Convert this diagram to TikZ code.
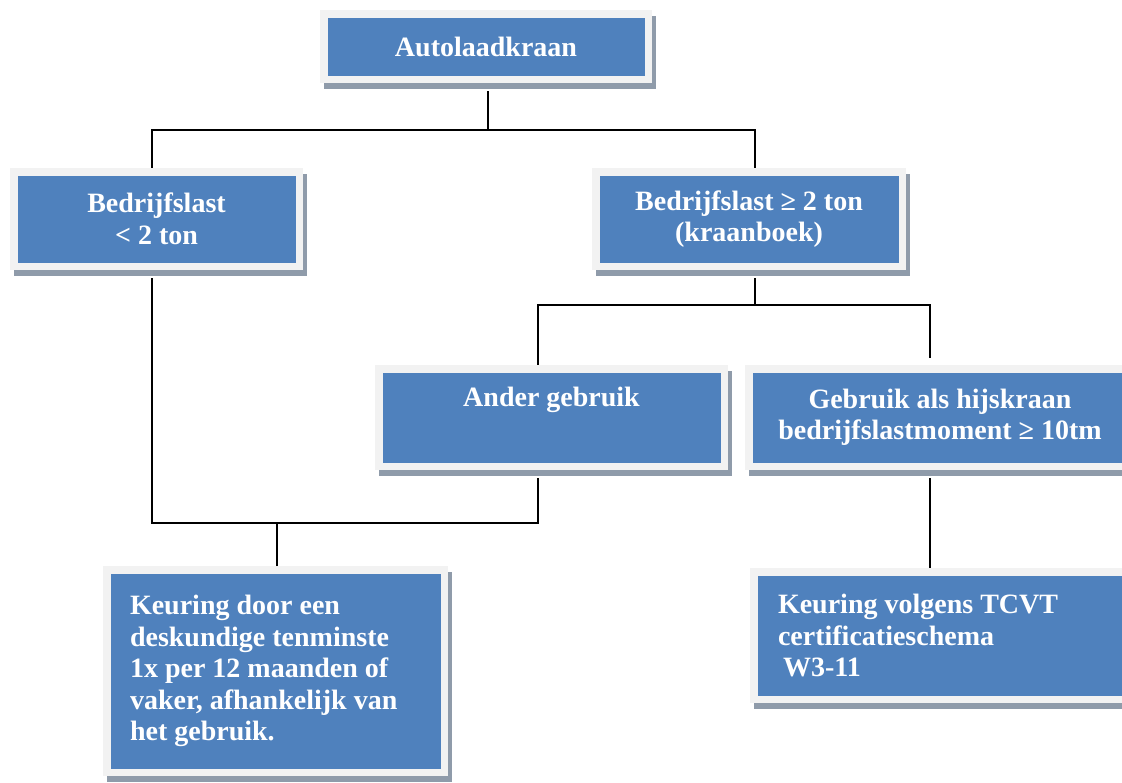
\documentclass[tikz,border=0pt]{standalone}
\usepackage{fontspec}
\setmainfont{Liberation Serif}
\usetikzlibrary{shadows}
\definecolor{boxblue}{HTML}{4F81BD}
\definecolor{frame}{HTML}{F2F2F2}
\definecolor{shadowgray}{HTML}{8F9BAA}
\tikzset{
  box/.style={rectangle, inner sep=0pt, fill=boxblue, draw=frame, line width=7.5pt,
    drop shadow={shadow xshift=4pt, shadow yshift=-6pt, fill=shadowgray, draw=shadowgray, line width=7.5pt, opacity=1},
    text=white, font=\bfseries\fontsize{28}{31.5}\selectfont, align=center},
  conn/.style={draw=black, line width=2pt}
}
\begin{document}
\begin{tikzpicture}[x=1pt,y=-1pt]
\useasboundingbox (0,0) rectangle (1122,782);
\clip (0,0) rectangle (1122,782);
\fill[white] (0,0) rectangle (1122,782);
\node[box, minimum width=324.5pt, minimum height=65.5pt] (a) at (486,46.5) {Autolaadkraan};
\node[box, minimum width=285.5pt, minimum height=94.5pt] (b) at (156.5,219) {Bedrijfslast\\ {<} 2 ton};
\node[box, minimum width=306.5pt, minimum height=94.5pt] (c) at (749,219) {Bedrijfslast ≥ 2 ton\\(kraanboek)};
\node[box, minimum width=345.5pt, minimum height=97.5pt] (d) at (551.5,417.5) {Ander gebruik\\\strut};
\node[box, minimum width=382.5pt, minimum height=97.5pt] (e) at (940,417.5) {Gebruik als hijskraan\\bedrijfslastmoment ≥ 10tm};
\node[box, minimum width=337.5pt, minimum height=202.5pt, text width=291pt, align=flush left] (f) at (275.5,671)
  {Keuring door een\\deskundige tenminste\\1x per 12 maanden of\\vaker, afhankelijk van\\het gebruik.};
\node[box, minimum width=382.5pt, minimum height=127.5pt, text width=334pt, align=flush left] (g) at (945,635.5)
  {Keuring volgens TCVT\\certificatieschema\\\hspace*{5pt}W3-11};
\coordinate (j1) at (0,130);
\coordinate (j2) at (0,305);
\coordinate (j3) at (0,523);
\draw[conn] ([xshift=2pt,yshift=-8pt]a.south) coordinate (a1) -- (a1 |- j1) -| ([xshift=-4.5pt]b.north);
\draw[conn] (a1 |- j1) -| ([xshift=6pt]c.north);
\draw[conn] ([xshift=6pt,yshift=-8pt]c.south) coordinate (c1) -- (c1 |- j2) -| ([xshift=-13.5pt]d.north);
\draw[conn] (c1 |- j2) -| ([xshift=-10pt,yshift=7pt]e.north);
\draw[conn] ([xshift=-4.5pt,yshift=-8pt]b.south) coordinate (b1) -- (b1 |- j3) -| ([xshift=-13.5pt,yshift=-8pt]d.south);
\draw[conn] ([xshift=1.5pt]f.north) coordinate (f1) -- (f1 |- j3);
\draw[conn] ([xshift=-10pt,yshift=-8pt]e.south) -- ([xshift=-15pt]g.north);
\end{tikzpicture}
\end{document}
